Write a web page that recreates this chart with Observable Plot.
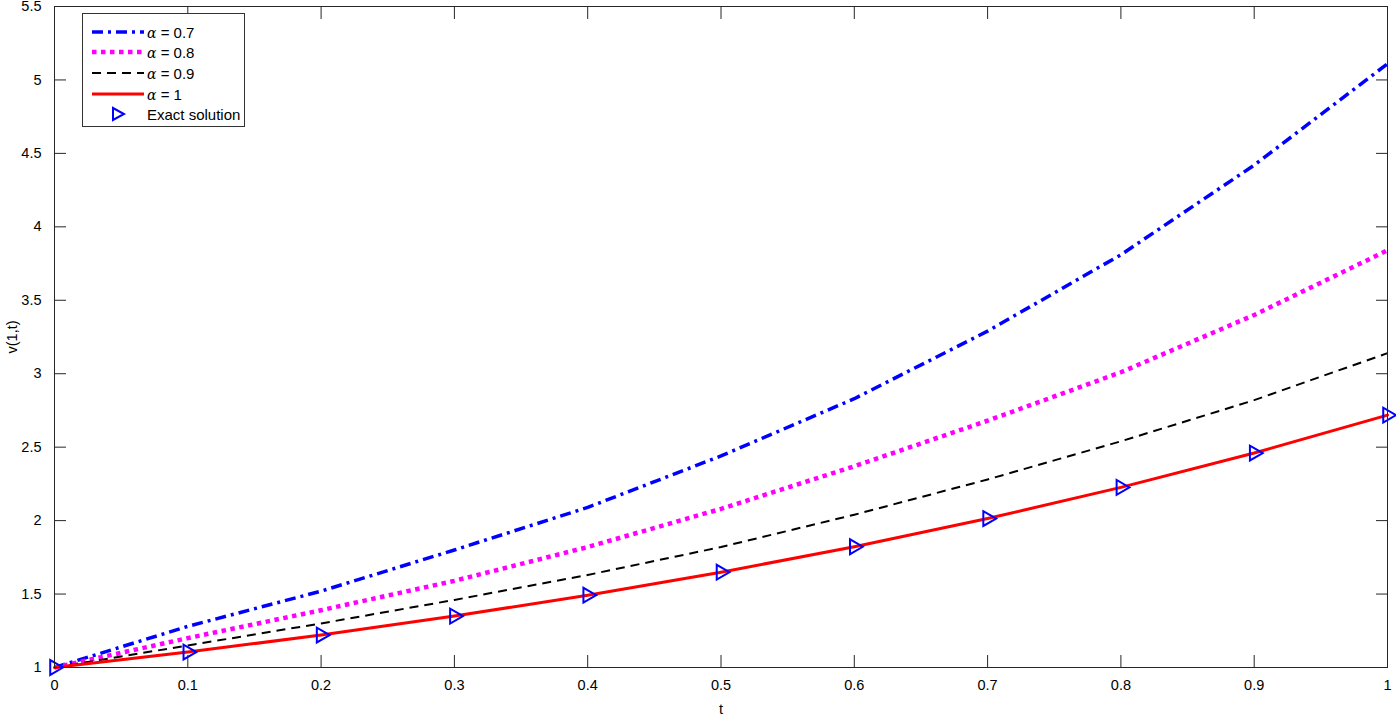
<!DOCTYPE html>
<html>
<head>
<meta charset="utf-8">
<script src="https://cdn.jsdelivr.net/npm/d3@7"></script>
<script src="https://cdn.jsdelivr.net/npm/@observablehq/plot@0.6"></script>
<style>
  html, body { margin: 0; padding: 0; background: #fff; }
  #wrap { position: relative; width: 1396px; height: 717px; font-family: "Liberation Sans", Arial, sans-serif; }
  #chart svg text { font-size: 14.5px !important; font-family: "Liberation Sans", Arial, sans-serif !important; fill: #000; }
  #legend { position: absolute; left: 82px; top: 13px; width: 163px; height: 114px; border: 1px solid #333; background: #fff; box-sizing: border-box; font-size: 15px; }
  .row { position: absolute; left: 0; height: 20px; display: flex; align-items: center; white-space: nowrap; }
  .row svg { display: block; margin-left: 9px; }
  .row span { margin-left: 3px; color: #000; }
  .row i { font-family: "DejaVu Serif", serif; font-style: italic; font-size: 14px; }
</style>
</head>
<body>
<div id="wrap">
  <div id="chart"></div>
  <div id="legend"></div>
</div>
<script>
const t = [0, 0.1, 0.2, 0.3, 0.4, 0.5, 0.6, 0.7, 0.8, 0.9, 1];
const v07 = [1, 1.28, 1.52, 1.80, 2.09, 2.44, 2.83, 3.29, 3.81, 4.42, 5.11];
const v08 = [1, 1.20, 1.39, 1.59, 1.82, 2.08, 2.37, 2.68, 3.01, 3.40, 3.84];
const v09 = [1, 1.15, 1.30, 1.46, 1.63, 1.82, 2.04, 2.28, 2.54, 2.82, 3.14];
const v10 = [1, 1.105, 1.221, 1.350, 1.492, 1.649, 1.822, 2.014, 2.226, 2.460, 2.718];
const exact = [1, 1.105, 1.221, 1.350, 1.492, 1.649, 1.822, 2.014, 2.226, 2.460, 2.718];
const xTicks = [0, 0.1, 0.2, 0.3, 0.4, 0.5, 0.6, 0.7, 0.8, 0.9, 1];
const yTicks = [1, 1.5, 2, 2.5, 3, 3.5, 4, 4.5, 5, 5.5];
const seriesLabels = ["α = 0.7", "α = 0.8", "α = 0.9", "α = 1", "Exact solution"];

const mk = (ys) => t.map((x, i) => ({t: x, v: ys[i]}));
const d07 = mk(v07), d08 = mk(v08), d09 = mk(v09), d10 = mk(v10), dEx = mk(exact);
const fmt = d => String(+d.toFixed(1));

const styles = [
  {stroke: "#0000ff", strokeWidth: 3.5, strokeDasharray: "11,5,3,5"},
  {stroke: "#ff00ff", strokeWidth: 4.5, strokeDasharray: "4.5,4.5"},
  {stroke: "#000000", strokeWidth: 2, strokeDasharray: "9,6"},
  {stroke: "#ff0000", strokeWidth: 3}
];

const plot = Plot.plot({
  width: 1396,
  height: 717,
  marginLeft: 54,
  marginRight: 9,
  marginTop: 6,
  marginBottom: 50,
  style: {fontFamily: "Liberation Sans, Arial, sans-serif", fontSize: "14px", color: "#000", background: "#fff", overflow: "visible"},
  x: {domain: [0, 1]},
  y: {domain: [1, 5.5]},
  marks: [
    Plot.line(d07, {x: "t", y: "v", strokeLinecap: "butt", ...styles[0]}),
    Plot.line(d08, {x: "t", y: "v", strokeLinecap: "butt", ...styles[1]}),
    Plot.line(d09, {x: "t", y: "v", strokeLinecap: "butt", ...styles[2]}),
    Plot.line(d10, {x: "t", y: "v", ...styles[3]}),
    Plot.dot(dEx, {x: "t", y: "v", symbol: "triangle", rotate: 90, r: 5.5, stroke: "#0000ff", strokeWidth: 2, fill: "none"}),
    Plot.frame({stroke: "#262626", strokeWidth: 1}),
    Plot.axisX({anchor: "bottom", ticks: xTicks, tickSize: 0, tickPadding: 12, tickFormat: fmt, fontSize: 14, label: "t", labelAnchor: "center", labelOffset: 46, labelArrow: "none"}),
    Plot.axisX({anchor: "bottom", ticks: xTicks, tickSize: -12, tickFormat: () => "", label: null, stroke: "#262626"}),
    Plot.axisX({anchor: "top", ticks: xTicks, tickSize: -12, tickFormat: () => "", label: null, stroke: "#262626"}),
    Plot.axisY({anchor: "left", ticks: yTicks, tickSize: 0, tickPadding: 13, tickFormat: fmt, fontSize: 14, label: "v(1,t)", labelAnchor: "center", labelOffset: 48, labelArrow: "none"}),
    Plot.axisY({anchor: "left", ticks: yTicks, tickSize: -12, tickFormat: () => "", label: null, stroke: "#262626"}),
    Plot.axisY({anchor: "right", ticks: yTicks, tickSize: -12, tickFormat: () => "", label: null, stroke: "#262626"})
  ]
});
document.getElementById("chart").appendChild(plot);

// legend
const legend = document.getElementById("legend");
const rowTops = [8, 28, 49, 70, 90];
seriesLabels.forEach((lab, i) => {
  const row = document.createElement("div");
  row.className = "row";
  row.style.top = rowTops[i] + "px";
  let sample;
  if (i < 4) {
    const s = styles[i];
    sample = `<svg width="52" height="20"><line x1="0" y1="10" x2="52" y2="10" stroke="${s.stroke}" stroke-width="${s.strokeWidth}" ${s.strokeDasharray ? `stroke-dasharray="${s.strokeDasharray}"` : ""}/></svg>`;
  } else {
    sample = `<svg width="52" height="20"><path d="M21,4 L32,10 L21,16 Z" fill="none" stroke="#0000ff" stroke-width="2"/></svg>`;
  }
  const parts = lab.split("α");
  const text = parts.length > 1 ? `<i>α</i>${parts[1]}` : lab;
  row.innerHTML = sample + `<span>${text}</span>`;
  legend.appendChild(row);
});
</script>
</body>
</html>
